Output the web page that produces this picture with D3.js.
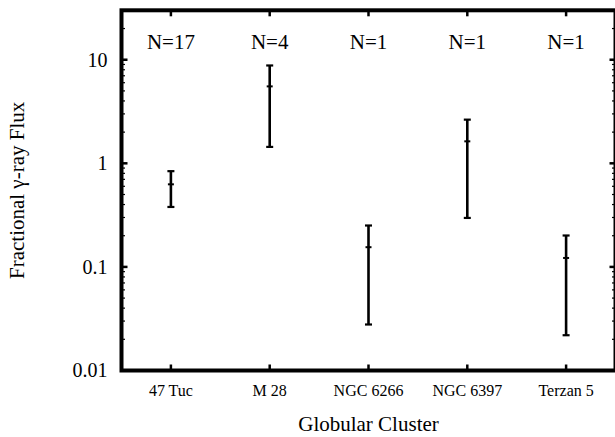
<!DOCTYPE html>
<html>
<head>
<meta charset="utf-8">
<script src="https://cdn.jsdelivr.net/npm/d3@7"></script>
<style>
  body { margin: 0; background: #fff; }
  text { font-family: "Liberation Serif", "DejaVu Serif", serif; fill: #000; }
</style>
</head>
<body>
<div class="chart"></div>
<script>
// values
var clusters = ["47 Tuc", "M 28", "NGC 6266", "NGC 6397", "Terzan 5"];
var counts   = ["N=17", "N=4", "N=1", "N=1", "N=1"];
var mid      = [0.627, 5.53, 0.155, 1.63, 0.122];
var upper    = [0.84, 8.8, 0.251, 2.64, 0.201];
var lower    = [0.379, 1.44, 0.0278, 0.297, 0.0219];
var yTicks   = [0.01, 0.1, 1, 10];
var yTickLabels = ["0.01", "0.1", "1", "10"];

var margin = { top: 10.3, right: 0, bottom: 66.5, left: 121.5 },
    width = 494,
    height = 360.2;

var svg = d3.select(".chart")
    .append("svg")
    .attr("width", 615)
    .attr("height", 437)
    .append("g")
    .attr("font-family", "Liberation Serif")
    .attr("transform", "translate(" + margin.left + "," + margin.top + ")");

var x = d3.scaleLinear()
    .domain([0.5, clusters.length + 0.5])
    .range([0, width]);

var y = d3.scaleLog()
    .domain([0.01, 30])
    .range([height, 0]);

var idx = d3.range(clusters.length);

// minor log ticks on left/right
var minor = [];
[0.01, 0.1, 1, 10].forEach(function (d) {
    for (var k = 2; k <= 9; k++) {
        if (d * k <= 30) minor.push(d * k);
    }
});

var ticks = svg.append("g").attr("stroke", "#000");

ticks.selectAll(".minL").data(minor).enter().append("line")
    .attr("x1", 0).attr("x2", 3.5)
    .attr("y1", function (d) { return y(d); })
    .attr("y2", function (d) { return y(d); })
    .attr("stroke-width", 1.2);
ticks.selectAll(".minR").data(minor).enter().append("line")
    .attr("x1", width).attr("x2", width - 3.5)
    .attr("y1", function (d) { return y(d); })
    .attr("y2", function (d) { return y(d); })
    .attr("stroke-width", 1.2);

ticks.selectAll(".majL").data(yTicks).enter().append("line")
    .attr("x1", 0).attr("x2", 6)
    .attr("y1", function (d) { return y(d); })
    .attr("y2", function (d) { return y(d); })
    .attr("stroke-width", 2.5);
ticks.selectAll(".majR").data(yTicks).enter().append("line")
    .attr("x1", width).attr("x2", width - 6)
    .attr("y1", function (d) { return y(d); })
    .attr("y2", function (d) { return y(d); })
    .attr("stroke-width", 2.5);

ticks.selectAll(".xb").data(idx).enter().append("line")
    .attr("x1", function (i) { return x(i + 1); })
    .attr("x2", function (i) { return x(i + 1); })
    .attr("y1", height).attr("y2", height - 6)
    .attr("stroke-width", 2.5);
ticks.selectAll(".xt").data(idx).enter().append("line")
    .attr("x1", function (i) { return x(i + 1); })
    .attr("x2", function (i) { return x(i + 1); })
    .attr("y1", 0).attr("y2", 6)
    .attr("stroke-width", 2.5);

// frame
svg.append("rect")
    .attr("x", 0).attr("y", 0)
    .attr("width", width).attr("height", height)
    .attr("fill", "none")
    .attr("stroke", "#000")
    .attr("stroke-width", 4);

// y tick labels
svg.selectAll(".ylab").data(yTicks).enter().append("text")
    .attr("x", -14)
    .attr("y", function (d) { return y(d); })
    .attr("dy", "0.35em")
    .attr("text-anchor", "end")
    .style("font-size", "20px")
    .text(function (d, i) { return yTickLabels[i]; });

// x tick labels
svg.selectAll(".xlab").data(clusters).enter().append("text")
    .attr("x", function (d, i) { return x(i + 1); })
    .attr("y", height + 25.5)
    .attr("text-anchor", "middle")
    .style("font-size", "16px")
    .text(function (d) { return d; });

// N labels
svg.selectAll(".nlab").data(counts).enter().append("text")
    .attr("x", function (d, i) { return x(i + 1); })
    .attr("y", 39)
    .attr("text-anchor", "middle")
    .style("font-size", "21px")
    .text(function (d) { return d; });

// error bars
var bars = svg.append("g").attr("stroke", "#000");
bars.selectAll(".eb").data(idx).enter().append("line")
    .attr("x1", function (i) { return x(i + 1); })
    .attr("x2", function (i) { return x(i + 1); })
    .attr("y1", function (i) { return y(upper[i]); })
    .attr("y2", function (i) { return y(lower[i]); })
    .attr("stroke-width", 2.6);
bars.selectAll(".capU").data(idx).enter().append("line")
    .attr("x1", function (i) { return x(i + 1) - 3.5; })
    .attr("x2", function (i) { return x(i + 1) + 3.5; })
    .attr("y1", function (i) { return y(upper[i]); })
    .attr("y2", function (i) { return y(upper[i]); })
    .attr("stroke-width", 2.2);
bars.selectAll(".capL").data(idx).enter().append("line")
    .attr("x1", function (i) { return x(i + 1) - 3.5; })
    .attr("x2", function (i) { return x(i + 1) + 3.5; })
    .attr("y1", function (i) { return y(lower[i]); })
    .attr("y2", function (i) { return y(lower[i]); })
    .attr("stroke-width", 2.2);
bars.selectAll(".mid").data(idx).enter().append("line")
    .attr("x1", function (i) { return x(i + 1) - 3; })
    .attr("x2", function (i) { return x(i + 1) + 3; })
    .attr("y1", function (i) { return y(mid[i]); })
    .attr("y2", function (i) { return y(mid[i]); })
    .attr("stroke-width", 2);

// axis titles
svg.append("text")
    .attr("x", width / 2)
    .attr("y", height + 61)
    .attr("text-anchor", "middle")
    .style("font-size", "21px")
    .text("Globular Cluster");

svg.append("text")
    .attr("transform", "rotate(-90)")
    .attr("x", -height / 2)
    .attr("y", -margin.left + 24)
    .attr("text-anchor", "middle")
    .style("font-size", "21px")
    .text("Fractional \u03b3-ray Flux");
</script>
</body>
</html>
